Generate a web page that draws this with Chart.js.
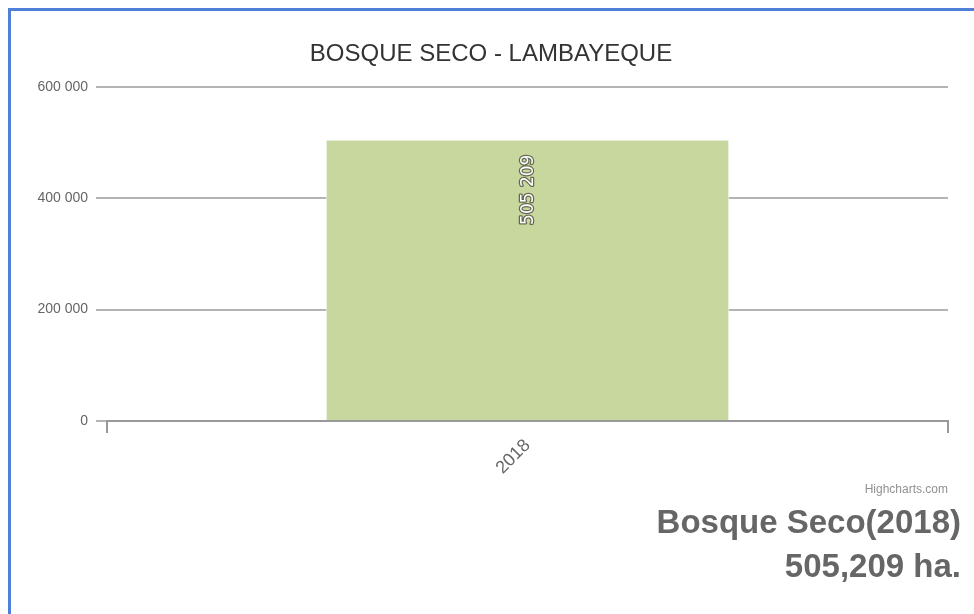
<!DOCTYPE html>
<html>
<head>
<meta charset="utf-8">
<script src="https://cdn.jsdelivr.net/npm/chart.js@4"></script>
<style>
  body { margin: 0; background: #fff; font-family: "Liberation Sans", Arial, sans-serif; }
  #marco { position: absolute; left: 8px; top: 8px; right: 0; bottom: 0; border-left: 3px solid #4f7fd6; border-top: 3px solid #4f7fd6; }
  #cont { position: absolute; left: 0; top: 0; width: 974px; height: 500px; }
  .credito { position: absolute; right: 26px; top: 482px; font-size: 12px; color: #909090; }
  .resumen { position: absolute; right: 13px; font-size: 33px; font-weight: bold; color: #666; white-space: nowrap; }
</style>
</head>
<body>
<div id="marco"></div>
<div id="cont"><canvas id="grafico"></canvas></div>
<div class="credito">Highcharts.com</div>
<div class="resumen" style="top:503px">Bosque Seco(2018)</div>
<div class="resumen" style="top:547px">505,209 ha.</div>
<script>
// datos
let categorias = ['2018'],
    valores = [505209],
    ticksY = [0, 200000, 400000, 600000];

let colorBarra = 'rgb(200, 215, 158)';

const separar = (v) => String(v).replace(/\B(?=(\d{3})+(?!\d))/g, ' ');

// etiqueta vertical dentro de la barra
const etiquetaBarra = {
    id: 'etiquetaBarra',
    afterDatasetsDraw(chart) {
        let ctx = chart.ctx,
            meta = chart.getDatasetMeta(0);
        meta.data.forEach((bar, i) => {
            ctx.save();
            ctx.translate(bar.x + 1, bar.y + 15);
            ctx.rotate(-Math.PI / 2);
            ctx.font = '17px "DejaVu Sans"';
            ctx.textAlign = 'right';
            ctx.textBaseline = 'middle';
            ctx.lineJoin = 'round';
            ctx.lineWidth = 2.5;
            ctx.strokeStyle = 'rgba(30,30,30,0.6)';
            ctx.strokeText(separar(valores[i]), 0, 0);
            ctx.fillStyle = '#fff';
            ctx.fillText(separar(valores[i]), 0, 0);
            ctx.restore();
        });
    }
};

const config = {
    type: 'bar',
    data: {
        labels: categorias,
        datasets: [{
            label: 'Bosque Seco',
            data: valores,
            backgroundColor: colorBarra,
            borderColor: '#fff',
            borderWidth: 1,
            categoryPercentage: 1,
            barPercentage: 0.48
        }]
    },
    options: {
        responsive: true,
        maintainAspectRatio: false,
        animation: false,
        // el padding izquierdo centra el titulo dentro del marco
        layout: { padding: { left: 34, right: 26, top: 0, bottom: 0 } },
        plugins: {
            legend: { display: false },
            tooltip: { enabled: false },
            title: {
                display: true,
                text: 'BOSQUE SECO - LAMBAYEQUE',
                color: '#333',
                font: { family: '"Liberation Sans", Arial', size: 24, weight: 'normal' },
                padding: { top: 40, bottom: 18 }
            }
        },
        scales: {
            x: {
                offset: true,
                afterFit: (s) => { s.height = 79; },
                grid: { display: true, drawOnChartArea: false, offset: true, tickLength: 12, color: '#999', lineWidth: 2 },
                border: { display: true, color: '#999', width: 2 },
                ticks: { minRotation: 45, maxRotation: 45, padding: 2, color: '#666', font: { family: '"Liberation Sans", Arial', size: 18 } }
            },
            y: {
                min: 0,
                max: 600000,
                afterFit: (s) => { s.width = 73; },
                afterBuildTicks: (s) => { s.ticks = ticksY.map(v => ({ value: v })); },
                grid: { color: '#b4b4b4', lineWidth: 2, tickLength: 11 },
                border: { display: false },
                ticks: { padding: 8, color: '#666', font: { family: '"Liberation Sans", Arial', size: 14 }, callback: (v) => separar(v) }
            }
        }
    },
    plugins: [etiquetaBarra]
};

let myChart = new Chart(document.getElementById('grafico').getContext('2d'), config);
</script>
</body>
</html>
